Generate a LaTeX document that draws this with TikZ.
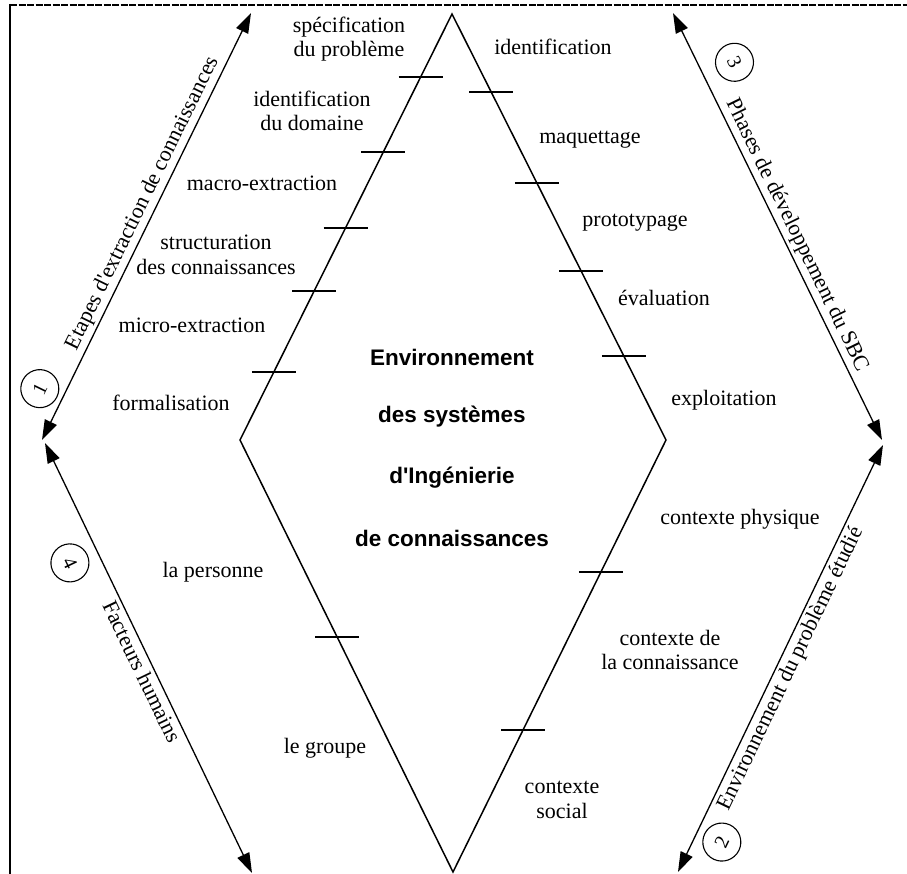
\documentclass[tikz,border=0pt]{standalone}
\usepackage{fontspec}
\setmainfont{Liberation Serif}
\newfontfamily\boldsans{Liberation Sans}
\usetikzlibrary{arrows.meta,calc}
\begin{document}
\begin{tikzpicture}[x=1pt,y=-1pt,
  lbl/.style={font=\fontsize{22}{24.5}\selectfont, align=center, inner sep=0pt},
  ctr/.style={font=\boldsans\bfseries\fontsize{22.5}{24}\selectfont, inner sep=0pt},
  hexedge/.style={line width=1.5pt, line join=miter},
  tickmark/.style={line width=1.5pt},
  arr/.style={line width=1.3pt, {Triangle[length=20pt,width=13pt]}-{Triangle[length=20pt,width=13pt]}},
  num/.style={draw, circle, line width=1.1pt, minimum size=38pt, inner sep=0pt, font=\fontsize{20}{20}\selectfont},
  alabel/.style={font=\fontsize{22}{24}\selectfont, inner sep=1pt}
]
\useasboundingbox (0,0) rectangle (907,874);
% frame
\draw[line width=1.8pt, dash pattern=on 7pt off 1.5pt] (10,5) -- (907,5);
\draw[line width=2pt] (10,4) -- (10,874);
% diamond
\coordinate (T) at (452,14);
\coordinate (L) at (240,440);
\coordinate (R) at (666,440);
\coordinate (B) at (453,872);
\draw[hexedge] (L) -- (T) -- (R) -- (B) -- cycle;
% ticks
\foreach \f in {0.148,0.324,0.502,0.650,0.840}
  \draw[tickmark] ($(T)!\f!(L)$) ++(-22,0) -- ++(44,0);
\foreach \f in {0.183,0.397,0.603,0.803}
  \draw[tickmark] ($(T)!\f!(R)$) ++(-22,0) -- ++(44,0);
\foreach \f in {0.306,0.671}
  \draw[tickmark] ($(R)!\f!(B)$) ++(-22,0) -- ++(44,0);
\draw[tickmark] ($(L)!0.456!(B)$) ++(-22,0) -- ++(44,0);
% centre text
\node[ctr] (c1t) at (452,357) {Environnement};
\node[ctr] (c2t) at (452,417) {des systèmes};
\node[ctr] (c3t) at (452,478) {d\textquotesingle Ingénierie};
\node[ctr] (c4t) at (452,538) {de connaissances};
% left labels
\node[lbl] (spec) at (349,39) {spécification\\du problème};
\node[lbl] (iddom) at (312,111) {identification\\du domaine};
\node[lbl] (macro) at (262,183) {macro-extraction};
\node[lbl] (struct) at (216,255) {structuration\\des connaissances};
\node[lbl] (micro) at (192,325) {micro-extraction};
\node[lbl] (formal) at (171,403) {formalisation};
\node[lbl] (pers) at (213,572) {la personne};
\node[lbl] (grp) at (325,748) {le groupe};
% right labels
\node[lbl] (ident) at (553,47) {identification};
\node[lbl] (maq) at (590,140) {maquettage};
\node[lbl] (proto) at (635,223) {prototypage};
\node[lbl] (eval) at (664,298) {évaluation};
\node[lbl] (expl) at (724,400) {exploitation};
\node[lbl] (cphys) at (740,519) {contexte physique};
\node[lbl] (cconn) at (670,650) {contexte de\\la connaissance};
\node[lbl] (csoc) at (562,800) {contexte\\social};
% arrows
\coordinate (a1s) at (42,440);
\coordinate (a1e) at (251,13);
\coordinate (a3s) at (673,13);
\coordinate (a3e) at (882,440);
\coordinate (a2s) at (678,872);
\coordinate (a2e) at (883,445);
\coordinate (a4s) at (45,443);
\coordinate (a4e) at (252,873);
\draw[arr] (a1s) -- node[alabel, pos=0.54, sloped, above=2pt] (t1) {Etapes d\textquotesingle extraction de connaissances}
  node[num, pos=0.095, sloped, above=5pt] (n1) {1} (a1e);
\draw[arr] (a3s) -- node[alabel, pos=0.535, sloped, above=2pt] (t3) {Phases de développement du SBC}
  node[num, pos=0.15, sloped, above=14pt] (n3) {3} (a3e);
\draw[arr] (a2s) -- node[alabel, pos=0.49, sloped, below=2pt] (t2) {Environnement du problème étudié}
  node[num, pos=0.097, sloped, below=7pt] (n2) {2} (a2e);
\draw[arr] (a4s) -- node[alabel, pos=0.52, sloped, below=2pt] (t4) {Facteurs humains}
  node[num, pos=0.249, sloped, below=10pt] (n4) {4} (a4e);
\end{tikzpicture}
\end{document}
